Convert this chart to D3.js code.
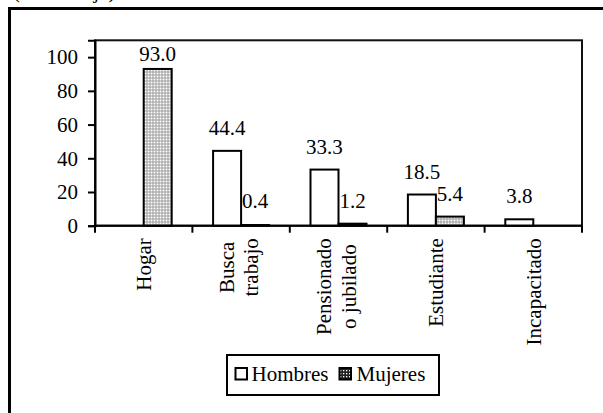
<!DOCTYPE html>
<html><head><meta charset="utf-8">
<script src="https://cdn.jsdelivr.net/npm/d3@7"></script>
<style>body{margin:0;background:#fff}svg{display:block}svg text{font-family:"Liberation Serif","Tinos","Times New Roman","DejaVu Serif",serif !important;fill:#000}</style>
</head><body>
<svg id="c" width="603" height="413"></svg>
<script>
const categories = [["Hogar"],["Busca","trabajo"],["Pensionado","o jubilado"],["Estudiante"],["Incapacitado"]];
const seriesNames = ["Hombres","Mujeres"];
const hombres = [null, 44.4, 33.3, 18.5, 3.8];
const mujeres = [93.0, 0.4, 1.2, 5.4, null];
const yTicks = [0,20,40,60,80,100];

const FS = 21;
const svg = d3.select("#c");
const defs = svg.append("defs");
const pat = defs.append("pattern").attr("id","dots").attr("patternUnits","userSpaceOnUse").attr("width",3).attr("height",3);
pat.append("rect").attr("width",3).attr("height",3).attr("fill","#9c9c9c");
pat.append("rect").attr("x",0.5).attr("y",0.5).attr("width",2).attr("height",2).attr("fill","#fff");
const pat2 = defs.append("pattern").attr("id","dots2").attr("patternUnits","userSpaceOnUse").attr("width",3).attr("height",3);
pat2.append("rect").attr("width",3).attr("height",3).attr("fill","#222");
pat2.append("rect").attr("x",1).attr("y",1).attr("width",1.3).attr("height",1.3).attr("fill","#fff");

// outer frame and clipped title
svg.append("text").attr("x",13).attr("y",-2).attr("font-size",FS).text("(Porcentaje)");
svg.append("rect").attr("x",9.5).attr("y",8.5).attr("width",620).attr("height",420).attr("fill","none").attr("stroke","#000").attr("stroke-width",3);

const m = {l:95, t:40.3, r:582, b:225.7};
const x0 = d3.scaleBand().domain(d3.range(categories.length)).range([m.l,m.r]).paddingInner(0.425).paddingOuter(0.2125);
const x1 = d3.scaleBand().domain(seriesNames).range([0,x0.bandwidth()]);
const y = d3.scaleLinear().domain([0,110]).range([m.b,m.t]);

svg.append("rect").attr("x",m.l).attr("y",m.t).attr("width",m.r-m.l).attr("height",m.b-m.t).attr("fill","none").attr("stroke","#111").attr("stroke-width",2);

const data = [];
categories.forEach((c,i)=>{
  if(hombres[i]!=null) data.push({i,s:"Hombres",v:hombres[i]});
  if(mujeres[i]!=null) data.push({i,s:"Mujeres",v:mujeres[i]});
});
svg.append("g").selectAll("rect").data(data).join("rect")
  .attr("x",d=>x0(d.i)+x1(d.s)).attr("width",x1.bandwidth())
  .attr("y",d=>y(d.v)).attr("height",d=>y(0)-y(d.v))
  .attr("fill",d=>d.s==="Hombres"?"#fff":"url(#dots)")
  .attr("stroke","#000").attr("stroke-width",2);
svg.append("g").selectAll("text").data(data).join("text")
  .attr("x",d=>x0(d.i)+x1(d.s)+x1.bandwidth()/2)
  .attr("y",d=>Math.min(Math.max(y(d.v)-16, m.t+21), y(0)-18))
  .attr("text-anchor","middle").attr("font-size",FS).text(d=>d.v.toFixed(1));

const ya = svg.append("g").attr("transform",`translate(${m.l},0)`).call(d3.axisLeft(y).tickValues(yTicks).tickSize(7).tickPadding(10));
ya.attr("font-family",null);
ya.select(".domain").attr("stroke","#000").attr("stroke-width",2);
ya.selectAll(".tick line").attr("stroke","#000").attr("stroke-width",2);
ya.selectAll(".tick text").attr("font-size",FS).attr("fill","#000");

const step = x0.step();
const xa = svg.append("g").attr("transform",`translate(0,${m.b})`);
xa.append("line").attr("x1",m.l).attr("x2",m.r).attr("stroke","#000").attr("stroke-width",2);
const bounds = d3.range(categories.length+1).map(k=>m.l+k*step);
xa.selectAll("line.t").data(bounds).join("line").attr("class","t").attr("x1",d=>d).attr("x2",d=>d).attr("y1",0).attr("y2",7).attr("stroke","#000").attr("stroke-width",2);
categories.forEach((lines,i)=>{
  const cx = x0(i)+x0.bandwidth()/2;
  const n = lines.length;
  const g = xa.append("g");
  const texts = lines.map((ln,j)=>{
    const off = n===1 ? 7.5 : 5 + (j-(n-1)/2)*24.5;
    return g.append("text").attr("font-size",FS).text(ln).attr("data-off",off);
  });
  const maxW = d3.max(texts, t=>t.node().getComputedTextLength());
  texts.forEach(t=>{
    const off = +t.attr("data-off");
    t.attr("text-anchor","middle").attr("transform",`translate(${cx+off},${12.5+maxW/2}) rotate(-90)`);
  });
});

const lg = svg.append("g");
lg.append("rect").attr("x",227).attr("y",355).attr("width",212).attr("height",40).attr("fill","#fff").attr("stroke","#000").attr("stroke-width",2);
lg.append("rect").attr("x",235.5).attr("y",368).attr("width",11.5).attr("height",11.5).attr("fill","#fff").attr("stroke","#000").attr("stroke-width",2);
lg.append("text").attr("x",251.5).attr("y",381).attr("font-size",FS).text(seriesNames[0]);
lg.append("rect").attr("x",339.5).attr("y",368).attr("width",11.5).attr("height",11.5).attr("fill","url(#dots2)").attr("stroke","#000").attr("stroke-width",2);
lg.append("text").attr("x",356.5).attr("y",381).attr("font-size",FS).text(seriesNames[1]);
</script>
</body></html>
